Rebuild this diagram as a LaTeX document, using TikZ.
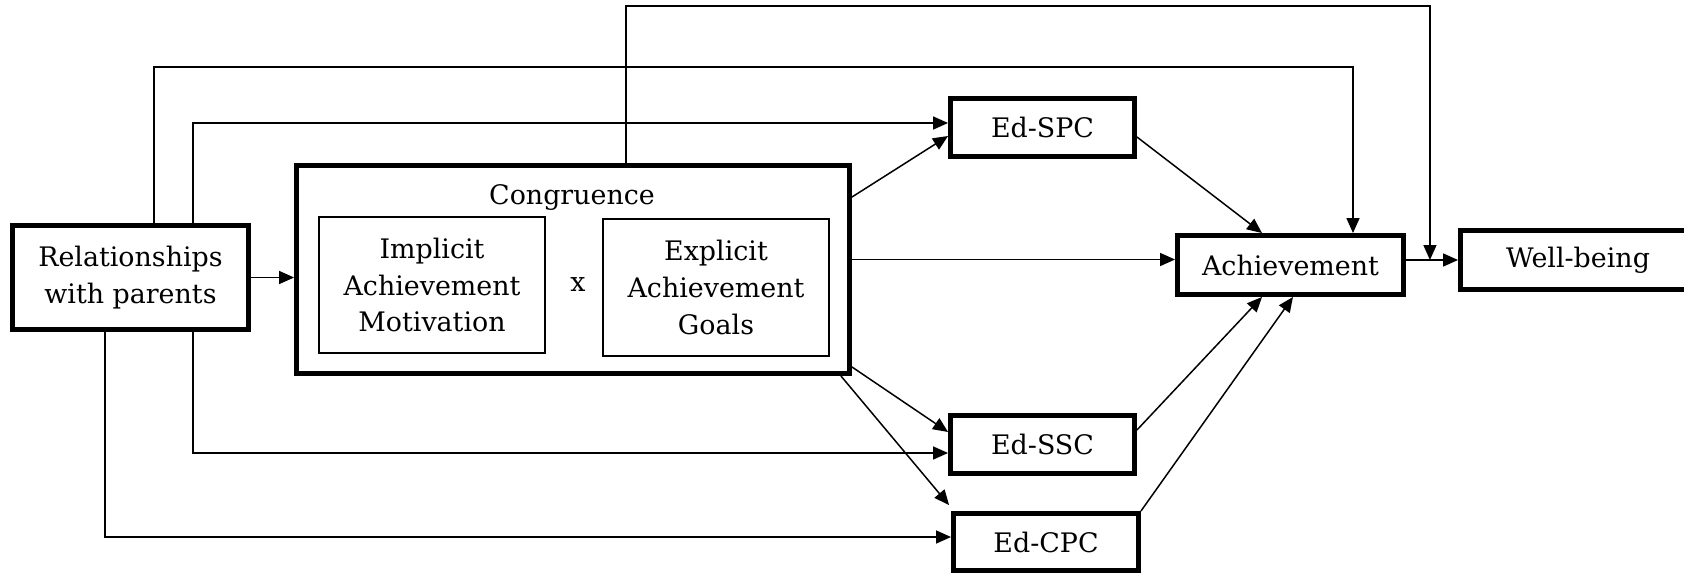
\documentclass[tikz,border=0pt]{standalone}
\usepackage{fontspec}
\setmainfont{DejaVu Serif}
\usetikzlibrary{arrows.meta,calc}
\begin{document}
\begin{tikzpicture}[x=0.02cm,y=-0.02cm,
  every node/.style={font=\fontsize{15.3}{21}\selectfont, align=center, inner sep=0pt},
  thickbox/.style={draw, line width=2.8pt, fill=white},
  thinbox/.style={draw, line width=1.1pt},
  conn/.style={line width=0.85pt, -{Triangle[length=0.3cm,width=0.26cm]}},
  plain/.style={line width=0.85pt}]
\useasboundingbox (0,0) rectangle (1684,575);
% nodes
\node[thickbox, minimum width=4.72cm, minimum height=2.08cm] (rel) at (130.5,277.5) {Relationships\\with parents};
\node[thickbox, minimum width=11.06cm, minimum height=4.16cm] (cong) at (573,269.5) {};
\node (congl) at (572,198) {Congruence};
\node[thinbox, minimum width=4.52cm, minimum height=2.72cm] (impl) at (432,285) {Implicit\\Achievement\\Motivation};
\node (times) at (578,285) {x};
\node[thinbox, minimum width=4.52cm, minimum height=2.74cm] (expl) at (716,287.5) {Explicit\\Achievement\\Goals};
\node[thickbox, minimum width=3.68cm, minimum height=1.16cm] (spc) at (1042.5,127.5) {Ed-SPC};
\node[thickbox, minimum width=3.68cm, minimum height=1.16cm] (ssc) at (1042.5,444.5) {Ed-SSC};
\node[thickbox, minimum width=3.7cm, minimum height=1.14cm] (cpc) at (1046,542) {Ed-CPC};
\node[thickbox, minimum width=4.52cm, minimum height=1.18cm] (ach) at (1290.5,265) {Achievement};
\node[thickbox, minimum width=4.7cm, minimum height=1.18cm] (wb) at (1578,260) {Well-being};
% connectors
\draw[conn] (rel.east) -- (cong.west |- rel.east);
\draw[conn] ([shift={(0,34)}]cong.north east) -- ([shift={(0,8.5)}]spc.west);
\draw[conn] ([shift={(0,-10)}]cong.east) coordinate (c1) -- (ach.west |- c1);
\draw[conn] ([shift={(0,-9)}]cong.south east) -- ([shift={(0,-12.5)}]ssc.west);
\draw[conn] ([shift={(-11,0)}]cong.south east) -- ([shift={(-2,-6)}]cpc.north west);
\draw[conn] ([shift={(0,9.5)}]spc.east) -- ([shift={(-28.5,0)}]ach.north);
\draw[conn] ([shift={(0,-14.5)}]ssc.east) -- ([shift={(-28.5,0)}]ach.south);
\draw[conn] (cpc.north east) -- ([shift={(2.5,0)}]ach.south);
\draw[conn] ([shift={(0,-5)}]ach.east) coordinate (a1) -- (wb.west |- a1);
\coordinate (aw) at ([shift={(24,-5)}]ach.east);
\draw[conn] ([shift={(53,0)}]cong.north) -- ++(0,-157) -| (aw);
\draw[conn] ([shift={(23.5,0)}]rel.north) -- ++(0,-156) -| ([shift={(62.5,0)}]ach.north);
\draw[conn] ([shift={(62.5,0)}]rel.north) |- ([shift={(0,-4.5)}]spc.west);
\draw[conn] ([shift={(62.5,0)}]rel.south) |- ([shift={(0,8.5)}]ssc.west);
\draw[conn] ([shift={(-25.5,0)}]rel.south) |- ([shift={(0,-5)}]cpc.west);
\end{tikzpicture}
\end{document}
